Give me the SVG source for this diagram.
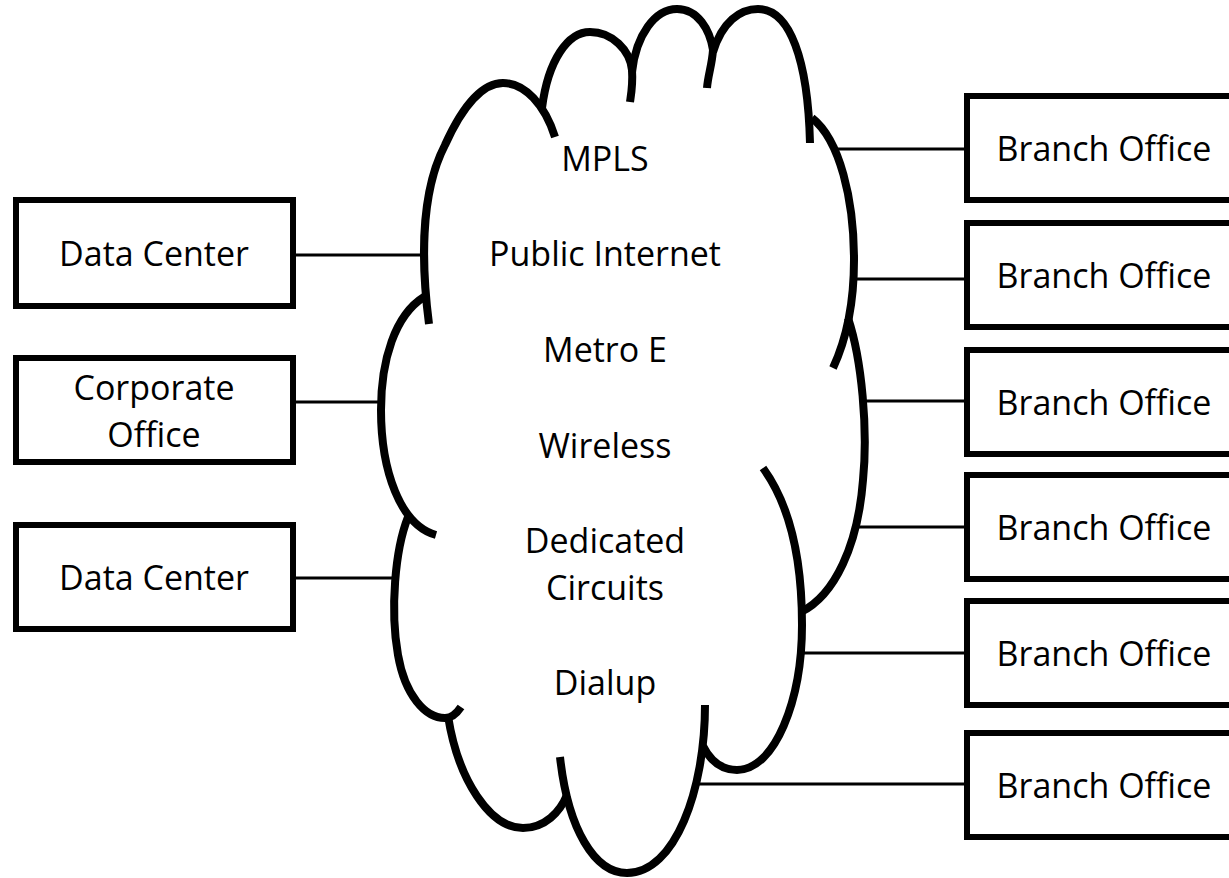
<svg xmlns="http://www.w3.org/2000/svg" width="1229" height="878" viewBox="0 0 1229 878">
<style>
.box{fill:#fff;stroke:#000;stroke-width:6}
.lbl{font-family:"Open Sans","Noto Sans","Liberation Sans",sans-serif;font-size:34px;fill:#000;text-anchor:middle}
.con{stroke:#000;stroke-width:3;fill:none}
.arc{stroke:#000;stroke-width:8;fill:none;stroke-linecap:butt}
</style>
<rect width="1229" height="878" fill="#fff"/>
<g id="connectors">
<line class="con" x1="296" y1="255" x2="425" y2="255"/>
<line class="con" x1="296" y1="402" x2="383" y2="402"/>
<line class="con" x1="296" y1="578" x2="394" y2="578"/>
<line class="con" x1="835" y1="149" x2="964" y2="149"/>
<line class="con" x1="854" y1="279" x2="964" y2="279"/>
<line class="con" x1="865" y1="401" x2="964" y2="401"/>
<line class="con" x1="859" y1="527" x2="964" y2="527"/>
<line class="con" x1="801" y1="653" x2="964" y2="653"/>
<line class="con" x1="697" y1="784" x2="964" y2="784"/>
</g>
<g id="cloud">
<path class="arc" d="M 429 324 C 422 270, 419 195, 445 145 C 463 105, 483 83, 503 83 C 525 83, 545 105, 555 137"/>
<path class="arc" d="M 542 108 C 548 60, 568 32, 590 32 C 612 32, 630 50, 632 70 C 633 85, 631 95, 630 102"/>
<path class="arc" d="M 632 72 C 636 35, 655 9, 677 9 C 698 9, 710 30, 713 50 C 712 65, 708 75, 707 88"/>
<path class="arc" d="M 713 52 C 722 22, 740 9, 758 9 C 790 9, 808 60, 810 143"/>
<path class="arc" d="M 812 118 C 840 140, 854 200, 854 260 C 854 305, 846 340, 833 368"/>
<path class="arc" d="M 848 318 C 862 360, 868 430, 863 480 C 858 545, 835 595, 801 612"/>
<path class="arc" d="M 763 468 C 790 505, 802 560, 802 625 C 802 700, 775 770, 737 770 C 720 770, 710 760, 703 746"/>
<path class="arc" d="M 705 705 C 705 790, 675 873, 627 873 C 595 873, 568 830, 560 757"/>
<path class="arc" d="M 448 716 C 458 780, 490 828, 523 828 C 545 828, 560 812, 567 795"/>
<path class="arc" d="M 408 517 C 395 550, 390 610, 398 655 C 405 695, 425 718, 445 718 C 452 718, 457 713, 461 707"/>
<path class="arc" d="M 424 297 C 395 315, 381 360, 381 410 C 381 470, 400 525, 436 535"/>
<text class="lbl" x="605" y="171">MPLS</text>
<text class="lbl" x="605" y="266">Public Internet</text>
<text class="lbl" x="605" y="362">Metro E</text>
<text class="lbl" x="605" y="458">Wireless</text>
<text class="lbl" x="605" y="553">Dedicated</text>
<text class="lbl" x="605" y="600">Circuits</text>
<text class="lbl" x="605" y="695">Dialup</text>
</g>
<g id="dc1"><rect class="box" x="16" y="200" width="277" height="106"/><text class="lbl" x="154" y="266">Data Center</text></g>
<g id="corp"><rect class="box" x="16" y="358" width="277" height="104"/><text class="lbl" x="154" y="400">Corporate</text><text class="lbl" x="154" y="447">Office</text></g>
<g id="dc2"><rect class="box" x="16" y="525" width="277" height="104"/><text class="lbl" x="154" y="590">Data Center</text></g>
<g id="b1"><rect class="box" x="967" y="96" width="280" height="104"/><text class="lbl" x="1104" y="161">Branch Office</text></g>
<g id="b2"><rect class="box" x="967" y="223" width="280" height="104"/><text class="lbl" x="1104" y="288">Branch Office</text></g>
<g id="b3"><rect class="box" x="967" y="350" width="280" height="104"/><text class="lbl" x="1104" y="415">Branch Office</text></g>
<g id="b4"><rect class="box" x="967" y="475" width="280" height="104"/><text class="lbl" x="1104" y="540">Branch Office</text></g>
<g id="b5"><rect class="box" x="967" y="601" width="280" height="104"/><text class="lbl" x="1104" y="666">Branch Office</text></g>
<g id="b6"><rect class="box" x="967" y="733" width="280" height="104"/><text class="lbl" x="1104" y="798">Branch Office</text></g>
</svg>
